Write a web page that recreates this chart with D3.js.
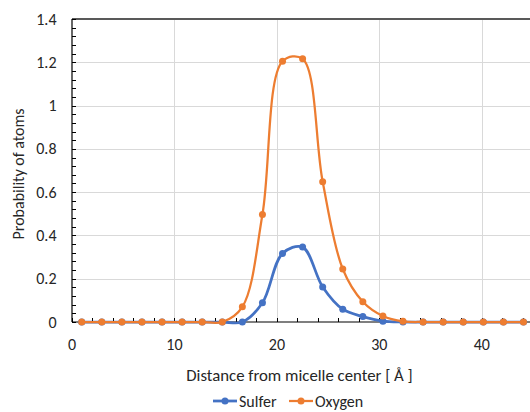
<!DOCTYPE html>
<html>
<head>
<meta charset="utf-8">
<script src="https://cdn.jsdelivr.net/npm/d3@7/dist/d3.min.js"></script>
<style>
  html, body { margin: 0; padding: 0; background: #fff; }
  svg { display: block; }
  text { font-family: Carlito, "Liberation Sans", Arial, sans-serif; fill: #262626; }
</style>
</head>
<body>
<svg id="chart" width="530" height="412"></svg>
<script>
// Radial distance from the micelle center (Å)
const distance = [0.95, 2.91, 4.87, 6.83, 8.79, 10.75, 12.71, 14.67, 16.63, 18.59,
  20.55, 22.51, 24.47, 26.43, 28.39, 30.35, 32.31, 34.27, 36.23, 38.19, 40.15, 42.11, 44.07];
// Probability of finding each atom type at that distance
const sulfer = [0, 0, 0, 0, 0, 0, 0, 0, 0.0, 0.089,
  0.317, 0.346, 0.162, 0.059, 0.025, 0.004, 0, 0, 0, 0, 0, 0, 0];
const oxygen = [0, 0, 0, 0, 0, 0, 0, 0, 0.07, 0.497,
  1.205, 1.216, 0.648, 0.245, 0.094, 0.028, 0.003, 0, 0, 0, 0, 0, 0];
const xTicks = [0, 10, 20, 30, 40];
const yTicks = [0, 0.2, 0.4, 0.6, 0.8, 1, 1.2, 1.4];
const seriesNames = ["Sulfer", "Oxygen"];
const seriesColors = ["#4472C4", "#ED7D31"];

const FONT = "16px";
const svg = d3.select("#chart");
const x = d3.scaleLinear().domain([0, 45]).range([72, 533]);
const y = d3.scaleLinear().domain([0, 1.4]).range([322, 19]);

// gridlines
const grid = svg.append("g");
grid.selectAll("line.h").data(yTicks.slice(1)).join("line")
  .attr("x1", x(0)).attr("x2", x(45))
  .attr("y1", d => Math.round(y(d)) + 0.5).attr("y2", d => Math.round(y(d)) + 0.5)
  .attr("stroke", "#d9d9d9").attr("stroke-width", 1);
grid.selectAll("line.v").data(xTicks.slice(1)).join("line")
  .attr("y1", y(0)).attr("y2", y(1.4))
  .attr("x1", d => Math.round(x(d)) + 0.5).attr("x2", d => Math.round(x(d)) + 0.5)
  .attr("stroke", "#d9d9d9").attr("stroke-width", 1);

// top frame
svg.append("line")
  .attr("x1", x(0)).attr("x2", x(45))
  .attr("y1", y(1.4)).attr("y2", y(1.4))
  .attr("stroke", "#595959").attr("stroke-width", 2);

// y axis with inward minor ticks
const yMinor = d3.range(0, 1.4001, 0.04);
const yAxisG = svg.append("g");
yAxisG.append("line").attr("x1", x(0)).attr("x2", x(0))
  .attr("y1", y(0)).attr("y2", y(1.4)).attr("stroke", "#000").attr("stroke-width", 1.2);
yAxisG.selectAll("line.t").data(yMinor).join("line")
  .attr("x1", x(0)).attr("x2", x(0) + 4)
  .attr("y1", d => Math.round(y(d)) + 0.5).attr("y2", d => Math.round(y(d)) + 0.5)
  .attr("stroke", "#000").attr("stroke-width", 1);
yAxisG.selectAll("text").data(yTicks).join("text")
  .attr("x", 56.5).attr("y", d => y(d))
  .attr("dy", "0.35em").attr("text-anchor", "end")
  .style("font-size", FONT)
  .text(d => d3.format("")(d));

// x axis with inward minor ticks
const xMinor = d3.range(0, 45.001, 2);
const xAxisG = svg.append("g");
xAxisG.append("line").attr("x1", x(0)).attr("x2", x(45))
  .attr("y1", y(0)).attr("y2", y(0)).attr("stroke", "#000").attr("stroke-width", 1.2);
xAxisG.selectAll("line.t").data(xMinor).join("line")
  .attr("x1", d => Math.round(x(d)) + 0.5).attr("x2", d => Math.round(x(d)) + 0.5)
  .attr("y1", y(0)).attr("y2", y(0) - 4)
  .attr("stroke", "#000").attr("stroke-width", 1);
xAxisG.selectAll("text").data(xTicks).join("text")
  .attr("x", d => x(d)).attr("y", 344)
  .attr("dy", "0.35em").attr("text-anchor", "middle")
  .style("font-size", FONT)
  .text(d => d);

// axis titles
svg.append("text").attr("x", 299.5).attr("y", 381)
  .attr("text-anchor", "middle").style("font-size", "16.8px")
  .text("Distance from micelle center [ Å ]");
svg.append("text")
  .attr("transform", "translate(23.5,174) rotate(-90)")
  .attr("text-anchor", "middle").style("font-size", FONT)
  .text("Probability of atoms");

// series
const seriesData = [sulfer, oxygen];
const line = d3.line().x(d => x(d[0])).y(d => y(d[1])).curve(d3.curveCatmullRom.alpha(0.5));
seriesData.forEach((vals, i) => {
  const pts = distance.map((d, j) => [d, vals[j]]);
  const g = svg.append("g");
  g.append("path").datum(pts).attr("d", line)
    .attr("fill", "none").attr("stroke", seriesColors[i])
    .attr("stroke-width", i === 0 ? 2.75 : 2.25);
  g.selectAll("circle").data(pts).join("circle")
    .attr("cx", d => x(d[0])).attr("cy", d => y(d[1])).attr("r", 3.5)
    .attr("fill", seriesColors[i]);
});

// legend
const legend = svg.append("g");
const legendX = [213, 289];
seriesNames.forEach((name, i) => {
  const lg = legend.append("g").attr("transform", `translate(${legendX[i]},401)`);
  lg.append("line").attr("x1", 0).attr("x2", 24).attr("y1", 0).attr("y2", 0)
    .attr("stroke", seriesColors[i]).attr("stroke-width", i === 0 ? 2.75 : 2.25);
  lg.append("circle").attr("cx", 12).attr("cy", 0).attr("r", 3.5).attr("fill", seriesColors[i]);
  lg.append("text").attr("x", 26).attr("y", 0).attr("dy", "0.35em")
    .style("font-size", FONT).text(name);
});
</script>
</body>
</html>
